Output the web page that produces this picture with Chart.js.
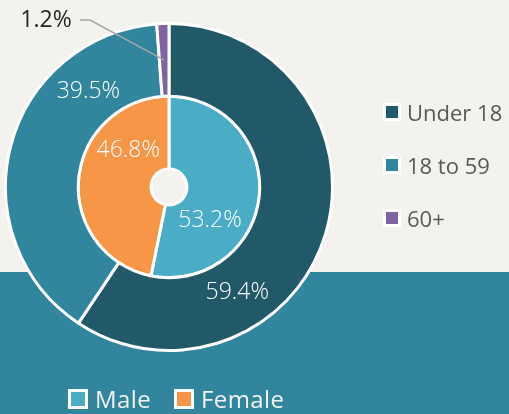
<!DOCTYPE html>
<html>
<head>
<meta charset="utf-8">
<script src="https://cdn.jsdelivr.net/npm/chart.js@4/dist/chart.umd.min.js"></script>
<style>
  html, body { margin: 0; padding: 0; }
  body { width: 509px; height: 414px; position: relative; overflow: hidden; background: #f3f2ee; font-family: "Open Sans", sans-serif; }
  #band { position: absolute; left: 0; top: 272px; width: 509px; height: 142px; background: #31859c; }
  #chart { position: absolute; left: 0; top: 0; }
  .leg { position: absolute; display: flex; align-items: center; white-space: nowrap; }
  .leg i { display: inline-block; box-sizing: border-box; border: 3px solid #fff; }
  .right { color: #595959; left: 383px; font-size: 22px; }
  .right i { width: 18px; height: 18px; margin-right: 6px; }
  .bottom { color: #f2f2f2; top: 382px; font-size: 24px; letter-spacing: 0.4px; }
  .bottom i { width: 20px; height: 20px; margin-right: 7px; }
</style>
</head>
<body>
<div id="band"></div>
<canvas id="chart" width="509" height="414"></canvas>
<div id="legends"></div>
<script>
// age groups (outer ring)
const ageLabels = ["Under 18", "18 to 59", "60+"];
const ageValues = [59.4, 39.5, 1.2];
const ageColors = ["#215968", "#31859c", "#8064a2"];

// gender (inner ring)
const genderLabels = ["Male", "Female"];
const genderValues = [53.2, 46.8];
const genderColors = ["#4bacc6", "#f79646"];

// where each % label sits: t = fraction along the slice, r = radius in px
const ageLabelPos = [{ t: 0.689, r: 126 }, { t: 0.748, r: 125 }, null];
const genderLabelPos = [{ t: 0.675, r: 53 }, { t: 0.716, r: 55 }];

const pctLabels = {
  id: 'pctLabels',
  afterDatasetsDraw(chart) {
    const ctx = chart.ctx;
    ctx.save();
    ctx.font = '300 23px "Open Sans"';
    ctx.fillStyle = '#ffffff';
    ctx.textAlign = 'center';
    ctx.textBaseline = 'middle';
    const all = [[ageValues, ageLabelPos], [genderValues, genderLabelPos]];
    all.forEach(([vals, pos], di) => {
      chart.getDatasetMeta(di).data.forEach((arc, i) => {
        const p = pos[i];
        if (!p) return;
        const a = arc.startAngle + (arc.endAngle - arc.startAngle) * p.t;
        ctx.fillText(vals[i].toFixed(1) + '%', arc.x + Math.cos(a) * p.r, arc.y + Math.sin(a) * p.r);
      });
    });
    // small slice label with leader line
    const arc = chart.getDatasetMeta(0).data[2];
    const a = (arc.startAngle + arc.endAngle) / 2;
    const px = arc.x + Math.cos(a) * 127, py = arc.y + Math.sin(a) * 127;
    const ly = 20;
    ctx.strokeStyle = '#a6a6a6';
    ctx.lineWidth = 1.5;
    ctx.beginPath();
    ctx.moveTo(px, py);
    ctx.lineTo(90, ly);
    ctx.lineTo(80, ly);
    ctx.stroke();
    ctx.font = '23px "Open Sans"';
    ctx.fillStyle = '#262626';
    ctx.fillText(ageValues[2].toFixed(1) + '%', 46, ly);
    ctx.restore();
  }
};

new Chart(document.getElementById('chart'), {
  type: 'doughnut',
  data: {
    labels: ageLabels,
    datasets: [
      { data: ageValues, backgroundColor: ageColors, borderColor: '#fff', borderWidth: 3, hoverOffset: 0 },
      { data: genderValues, backgroundColor: genderColors, borderColor: '#fff', borderWidth: 3, hoverOffset: 0 }
    ]
  },
  options: {
    responsive: false,
    animation: false,
    cutout: '11%',
    layout: { padding: { left: 4, top: 22, right: 175, bottom: 62 } },
    plugins: { legend: { display: false }, tooltip: { enabled: false } }
  },
  plugins: [pctLabels]
});

// legends
const legendBox = document.getElementById('legends');
ageLabels.forEach((name, i) => {
  const d = document.createElement('div');
  d.className = 'leg right';
  d.style.top = (97 + i * 53) + 'px';
  d.innerHTML = '<i style="background:' + ageColors[i] + '"></i>' + name;
  legendBox.appendChild(d);
});
const bottomLeft = [68, 174];
genderLabels.forEach((name, i) => {
  const d = document.createElement('div');
  d.className = 'leg bottom';
  d.style.left = bottomLeft[i] + 'px';
  d.innerHTML = '<i style="background:' + genderColors[i] + '"></i>' + name;
  legendBox.appendChild(d);
});
</script>
</body>
</html>
